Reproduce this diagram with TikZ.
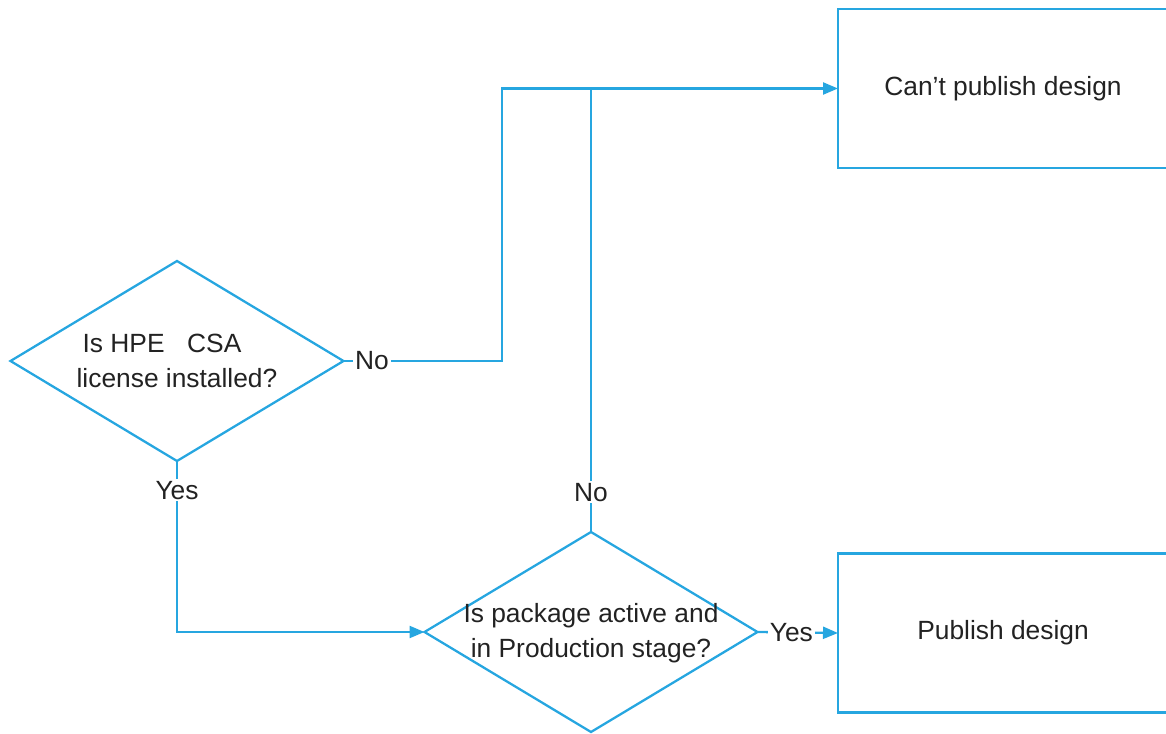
\documentclass[tikz,border=0pt]{standalone}
\usepackage{fontspec}
\setmainfont{Liberation Sans}
\usetikzlibrary{shapes.geometric,arrows.meta}
\definecolor{flowblue}{RGB}{38,166,224}
\definecolor{flowtext}{RGB}{34,34,34}

\def\boxwidth{6.6cm}
\def\boxheight{3.18cm}

\begin{document}
\begin{tikzpicture}[font=\fontsize{15pt}{20pt}\selectfont,text=flowtext,draw=flowblue,line width=1.3pt]
    \tikzstyle{decision}=[diamond,draw=flowblue,line width=1.3pt,minimum width=6.66cm,minimum height=4cm,inner sep=0pt,outer sep=0pt]
    \tikzstyle{result}=[rectangle,draw=flowblue,line width=1.3pt,minimum width=\boxwidth,minimum height=\boxheight,inner sep=0pt,outer sep=0pt]
    \tikzstyle{lbl}=[fill=white,inner sep=1pt]
    \tikzstyle{flow}=[draw=flowblue,line width=1.3pt]
    \tikzstyle{arrow}=[flow,-{Triangle[length=0.3cm,width=0.24cm]}]

    \useasboundingbox (0,0) rectangle (23.32,14.66);
    \clip (0,0) rectangle (23.32,14.66);

    \node[decision,label={[align=center]center:Is HPE\hspace{0.45cm}CSA\hspace{0.6cm}\null\\license installed?}] (license) at (3.54,7.44) {};
    \node[decision,label={[align=center,yshift=-0.02cm]center:Is package active and\\in Production stage?}] (package) at (11.82,2.02) {};
    \node[result] (cantpub) at (20.06,12.89) {Can’t publish design};
    \node[result] (publish) at (20.06,2.0) {Publish design};

    \coordinate (bend) at (10.04,7.44);

    \draw[arrow] (license.east) -- node[lbl,pos=0.18]{No} (bend) |- (cantpub.west);
    \draw[flow] (package.north) -- node[lbl,pos=0.09]{No} (package.north |- cantpub.west);
    \draw[arrow] (license.south) -- node[lbl,pos=0.17]{Yes} (license.south |- package.west) -- (package.west);
    \draw[arrow] (package.east) -- node[lbl,pos=0.42]{Yes} (publish.west);
\end{tikzpicture}
\end{document}
